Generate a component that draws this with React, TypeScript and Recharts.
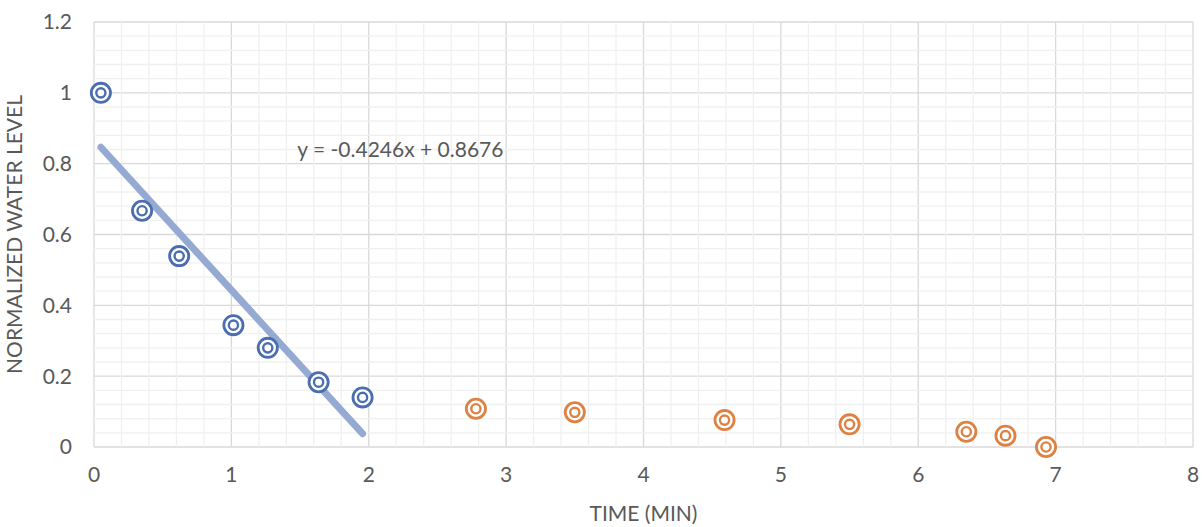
import { ScatterChart, Scatter, XAxis, YAxis, CartesianGrid, ReferenceDot, ReferenceLine, Label } from 'recharts';

const blueTime = [0.05, 0.35, 0.62, 1.015, 1.265, 1.635, 1.955];
const blueLevel = [1.0, 0.667, 0.539, 0.344, 0.28, 0.183, 0.14];
const orangeTime = [2.78, 3.5, 4.59, 5.5, 6.35, 6.635, 6.93];
const orangeLevel = [0.108, 0.098, 0.076, 0.064, 0.043, 0.032, 0.0];

// linear trendline through the blue series
const slope = -0.4246;
const intercept = 0.8676;
const trendLabel = 'y = -0.4246x + 0.8676';

const xTicks = [0, 1, 2, 3, 4, 5, 6, 7, 8];
const yTicks = [0, 0.2, 0.4, 0.6, 0.8, 1, 1.2];
// minor gridlines (5 per major step), majors left out
const minorX = Array.from({ length: 41 }, (_, i) => +(i * 0.2).toFixed(2)).filter((_, i) => i % 5 !== 0);
const minorY = Array.from({ length: 31 }, (_, i) => +(i * 0.04).toFixed(2)).filter((_, i) => i % 5 !== 0);

const blueData = blueTime.map((t, i) => ({ x: t, y: blueLevel[i] }));
const orangeData = orangeTime.map((t, i) => ({ x: t, y: orangeLevel[i] }));
const trendData = [Math.min(...blueTime), Math.max(...blueTime)].map((t) => ({ x: t, y: slope * t + intercept }));

const FONT = 'Lato, "Open Sans", sans-serif';
const TEXT = '#595959';
const FS = 21;

function ringMarker(color: string) {
  return (props: any) => {
    const { cx, cy } = props;
    if (cx == null || cy == null) return <g />;
    return (
      <g>
        <circle cx={cx} cy={cy} r={9.6} fill="#fff" stroke={color} strokeWidth={2.8} />
        <circle cx={cx} cy={cy} r={4.6} fill="none" stroke={color} strokeWidth={2.4} />
      </g>
    );
  };
}

export default function App() {
  return (
    <div style={{ position: 'absolute', left: 0, top: 0, width: 1202, height: 527, background: '#fff', fontFamily: FONT }}>
      <ScatterChart width={1202} height={527} margin={{ top: 22, right: 9, bottom: 0, left: 0 }}>
        <XAxis
          type="number"
          dataKey="x"
          domain={[0, 8]}
          ticks={xTicks}
          height={80}
          axisLine={false}
          tickLine={false}
          tickSize={0}
          tickMargin={20}
          tick={{ fill: TEXT, fontSize: FS, fontFamily: FONT }}
        >
          <Label value="TIME (MIN)" position="insideBottom" offset={6} fill={TEXT} fontSize={FS} fontFamily={FONT} />
        </XAxis>
        <YAxis
          type="number"
          dataKey="y"
          domain={[0, 1.2]}
          ticks={yTicks}
          width={94}
          axisLine={false}
          tickLine={false}
          tickSize={0}
          tickMargin={22}
          tick={{ fill: TEXT, fontSize: FS, fontFamily: FONT }}
        >
          <Label value="NORMALIZED WATER LEVEL" angle={-90} position="insideLeft" offset={15} fill={TEXT} fontSize={FS} fontFamily={FONT} style={{ textAnchor: 'middle' }} />
        </YAxis>
        {minorX.map((v) => (
          <ReferenceLine key={`mx${v}`} x={v} stroke="#f0f0f0" strokeWidth={1.3} />
        ))}
        {minorY.map((v) => (
          <ReferenceLine key={`my${v}`} y={v} stroke="#f0f0f0" strokeWidth={1.3} />
        ))}
        <CartesianGrid stroke="#d9d9d9" strokeWidth={1.3} />
        <Scatter
          data={trendData}
          line={{ stroke: '#95aad3', strokeWidth: 7, strokeLinecap: 'round' }}
          shape={() => <g />}
          isAnimationActive={false}
          legendType="none"
        />
        <Scatter data={blueData} shape={ringMarker('#4a6eb0')} isAnimationActive={false} />
        <Scatter data={orangeData} shape={ringMarker('#dd8243')} isAnimationActive={false} />
        <ReferenceDot
          x={1.48}
          y={0.839}
          r={0}
          fill="none"
          stroke="none"
          label={(p: any) => (
            <text x={p.viewBox.x} y={p.viewBox.y} dy="0.35em" fill={TEXT} fontSize={FS} fontFamily={FONT} textAnchor="start">
              {trendLabel}
            </text>
          )}
        />
      </ScatterChart>
    </div>
  );
}
